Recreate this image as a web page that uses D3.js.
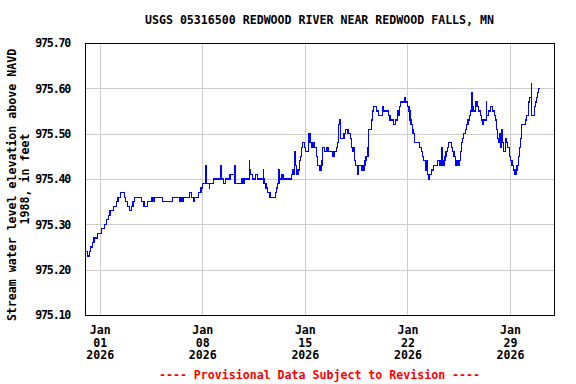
<!DOCTYPE html>
<html>
<head>
<meta charset="utf-8">
<script src="https://cdn.jsdelivr.net/npm/d3@7"></script>
<style>
  body { margin: 0; background: #fff; }
  text { font-family: "DejaVu Sans Mono", monospace; font-weight: bold; font-size: 11.6px; }
</style>
</head>
<body>
<svg id="chart" width="576" height="384"></svg>
<script>
// gage readings, days after 2025-12-31 00:00 (UTC) -> water level (ft)
var dayOffsets = [
  0.00, 0.16, 0.30, 0.36, 0.50, 0.61, 0.84, 1.11, 1.34, 1.45, 1.59, 1.71, 1.93, 2.14, 2.25, 2.43,
  2.71, 2.78, 2.89, 3.02, 3.16, 3.27, 3.36, 3.84, 4.02, 4.25, 4.55, 4.60, 4.65, 4.70, 4.75, 5.27,
  5.96, 6.43, 6.48, 6.53, 6.60, 6.65, 6.71, 7.12, 7.28, 7.39, 7.45, 7.73, 7.91, 8.03, 8.21, 8.25,
  8.30, 8.48, 8.50, 8.75, 9.28, 9.31, 9.43, 9.57, 9.89, 10.19, 10.23, 10.66, 10.70, 10.75, 10.80, 10.87,
  11.21, 11.25, 11.30, 11.44, 11.66, 11.78, 12.16, 12.20, 12.22, 12.26, 12.35, 12.46, 12.62, 12.98, 13.05, 13.12,
  13.23, 13.27, 13.39, 13.51, 14.07, 14.14, 14.21, 14.30, 14.33, 14.41, 14.53, 14.65, 14.71, 14.78, 14.82, 14.99,
  15.05, 15.26, 15.35, 15.44, 15.55, 15.67, 15.78, 15.89, 16.01, 16.05, 16.09, 16.13, 16.17, 16.23, 16.35, 16.46,
  16.58, 16.92, 17.00, 17.14, 17.21, 17.30, 17.37, 17.44, 17.67, 17.76, 17.94, 18.12, 18.21, 18.25, 18.30, 18.40,
  18.46, 18.58, 18.62, 18.67, 18.85, 18.92, 19.00, 19.05, 19.10, 19.17, 19.26, 19.29, 19.33, 19.56, 19.62, 19.71,
  19.90, 20.01, 20.28, 20.35, 20.69, 20.81, 21.03, 21.21, 21.30, 21.37, 21.44, 21.53, 21.78, 21.82, 21.85, 21.87,
  22.01, 22.10, 22.17, 22.24, 22.33, 22.36, 22.38, 22.39, 22.46, 22.85, 22.97, 23.04, 23.12, 23.24, 23.27, 23.31,
  23.37, 23.47, 23.53, 23.65, 23.76, 24.03, 24.22, 24.27, 24.33, 24.36, 24.42, 24.47, 24.52, 24.56, 24.63, 24.72,
  24.78, 24.98, 25.09, 25.17, 25.26, 25.31, 25.36, 25.40, 25.45, 25.49, 25.53, 25.60, 25.67, 25.76, 25.85, 25.94,
  26.04, 26.13, 26.21, 26.31, 26.40, 26.43, 26.47, 26.53, 26.62, 26.66, 26.70, 26.73, 26.76, 26.86, 26.97, 27.03,
  27.13, 27.20, 27.37, 27.42, 27.54, 27.65, 27.83, 27.92, 27.99, 28.06, 28.13, 28.17, 28.22, 28.26, 28.33, 28.37,
  28.40, 28.45, 28.56, 28.67, 28.74, 28.83, 28.94, 29.04, 29.13, 29.24, 29.29, 29.34, 29.38, 29.43, 29.47, 29.58,
  29.65, 29.72, 29.81, 30.04, 30.15, 30.24, 30.31, 30.44, 30.47, 30.65, 30.72, 30.79, 30.86, 30.92, 31.04
];
var levels = [
  975.24, 975.23, 975.24, 975.25, 975.26, 975.27, 975.28, 975.29, 975.30, 975.31, 975.32, 975.33, 975.34, 975.35, 975.36, 975.37,
  975.36, 975.35, 975.34, 975.33, 975.34, 975.35, 975.36, 975.35, 975.34, 975.35, 975.36, 975.35, 975.36, 975.35, 975.36, 975.35,
  975.36, 975.35, 975.36, 975.35, 975.36, 975.35, 975.36, 975.37, 975.36, 975.35, 975.36, 975.37, 975.38, 975.39, 975.43, 975.41,
  975.39, 975.38, 975.39, 975.40, 975.43, 975.40, 975.39, 975.40, 975.41, 975.43, 975.39, 975.40, 975.39, 975.40, 975.39, 975.40,
  975.44, 975.42, 975.41, 975.40, 975.41, 975.40, 975.42, 975.39, 975.40, 975.39, 975.38, 975.37, 975.36, 975.37, 975.38, 975.39,
  975.42, 975.40, 975.41, 975.40, 975.41, 975.42, 975.41, 975.46, 975.43, 975.41, 975.42, 975.44, 975.45, 975.47, 975.48, 975.47,
  975.46, 975.50, 975.48, 975.47, 975.48, 975.47, 975.45, 975.43, 975.42, 975.43, 975.42, 975.43, 975.44, 975.47, 975.46, 975.47,
  975.46, 975.45, 975.46, 975.47, 975.48, 975.52, 975.53, 975.49, 975.50, 975.51, 975.50, 975.49, 975.47, 975.46, 975.47, 975.44,
  975.43, 975.42, 975.41, 975.43, 975.42, 975.43, 975.42, 975.43, 975.44, 975.45, 975.47, 975.45, 975.51, 975.53, 975.55, 975.56,
  975.55, 975.54, 975.56, 975.55, 975.54, 975.53, 975.52, 975.53, 975.55, 975.54, 975.56, 975.57, 975.58, 975.57, 975.58, 975.57,
  975.56, 975.55, 975.53, 975.52, 975.51, 975.50, 975.51, 975.50, 975.48, 975.47, 975.46, 975.45, 975.44, 975.43, 975.42, 975.44,
  975.41, 975.40, 975.41, 975.42, 975.43, 975.44, 975.43, 975.44, 975.47, 975.43, 975.44, 975.43, 975.44, 975.45, 975.46, 975.47,
  975.48, 975.47, 975.46, 975.45, 975.44, 975.43, 975.44, 975.43, 975.44, 975.43, 975.44, 975.46, 975.48, 975.49, 975.50, 975.51,
  975.52, 975.53, 975.54, 975.55, 975.59, 975.55, 975.56, 975.55, 975.56, 975.57, 975.56, 975.57, 975.56, 975.55, 975.54, 975.53,
  975.52, 975.53, 975.57, 975.54, 975.55, 975.56, 975.55, 975.54, 975.53, 975.51, 975.50, 975.49, 975.48, 975.50, 975.48, 975.47,
  975.51, 975.48, 975.46, 975.49, 975.48, 975.47, 975.45, 975.44, 975.43, 975.42, 975.41, 975.42, 975.41, 975.42, 975.43, 975.45,
  975.47, 975.49, 975.52, 975.53, 975.54, 975.57, 975.58, 975.61, 975.54, 975.56, 975.57, 975.58, 975.59, 975.60, 975.60
];

var yTicks = [975.10, 975.20, 975.30, 975.40, 975.50, 975.60, 975.70];
var xTickDays = ["2026-01-01", "2026-01-08", "2026-01-15", "2026-01-22", "2026-01-29"];

var titleText = "USGS 05316500 REDWOOD RIVER NEAR REDWOOD FALLS, MN";
var yTitle1 = "Stream water level elevation above NAVD";
var yTitle2 = "1988, in feet";
var footText = "---- Provisional Data Subject to Revision ----";

var margin = {top: 43, right: 22, bottom: 69, left: 85},
    width = 576 - margin.left - margin.right,
    height = 384 - margin.top - margin.bottom;

var start = new Date(Date.UTC(2025, 11, 31));
var parseDay = d3.utcParse("%Y-%m-%d");

var data = dayOffsets.map(function(d, i) {
  return {date: d3.utcMinute.offset(start, Math.round(d * 1440)), level: levels[i]};
});

var x = d3.scaleUtc()
    .domain([start, new Date(Date.UTC(2026, 1, 1))])
    .range([0, width]);
var y = d3.scaleLinear()
    .domain([975.10, 975.70])
    .range([height, 0]);

var svg = d3.select("#chart");
var g = svg.append("g")
    .attr("transform", "translate(" + margin.left + "," + margin.top + ")");

// grid
g.append("g")
    .attr("class", "grid")
    .call(d3.axisLeft(y).tickValues(yTicks.slice(1, -1)).tickSize(-width).tickFormat(""))
    .call(function(s) { s.select(".domain").remove(); });
g.append("g")
    .attr("class", "grid")
    .attr("transform", "translate(0," + height + ")")
    .call(d3.axisBottom(x).tickValues(xTickDays.map(parseDay)).tickSize(-height).tickFormat(""))
    .call(function(s) { s.select(".domain").remove(); });
g.selectAll(".grid line")
    .attr("stroke", "#cccccc")
    .attr("shape-rendering", "crispEdges");

// y labels
var yAxis = g.append("g")
    .call(d3.axisLeft(y).tickValues(yTicks).tickSize(0).tickPadding(15).tickFormat(d3.format(".2f")));
yAxis.select(".domain").remove();
yAxis.selectAll("text")
    .attr("fill", "#000")
    .style("font-size", null).style("font-family", null)
    .style("letter-spacing", "-1.2px");

// x labels, three lines each
var xAxis = g.append("g")
    .attr("transform", "translate(0," + height + ")")
    .call(d3.axisBottom(x).tickValues(xTickDays.map(parseDay)).tickSize(0).tickFormat(""));
xAxis.select(".domain").remove();
xAxis.selectAll(".tick").each(function(d) {
  var t = d3.select(this).append("text").attr("fill", "#000").attr("text-anchor", "middle");
  [d3.utcFormat("%b")(d), d3.utcFormat("%d")(d), d3.utcFormat("%Y")(d)].forEach(function(s, i) {
    t.append("tspan").attr("x", 0).attr("y", 19 + i * 12.7).text(s);
  });
});

// frame
g.append("rect")
    .attr("x", 0.5).attr("y", 0.5)
    .attr("width", width).attr("height", height)
    .attr("fill", "none").attr("stroke", "#000")
    .attr("shape-rendering", "crispEdges");

// the series
var line = d3.line()
    .curve(d3.curveStepAfter)
    .x(function(d) { return x(d.date); })
    .y(function(d) { return y(d.level); });

g.append("path")
    .datum(data)
    .attr("fill", "none")
    .attr("stroke", "#0000ff")
    .attr("stroke-width", 1.2)
    .attr("shape-rendering", "crispEdges")
    .attr("d", line);

// titles
svg.append("text")
    .attr("x", margin.left + width / 2).attr("y", 24)
    .attr("text-anchor", "middle")
    .text(titleText);

svg.append("text")
    .attr("transform", "translate(16,185) rotate(-90)")
    .attr("text-anchor", "middle")
    .text(yTitle1);
svg.append("text")
    .attr("transform", "translate(29,179) rotate(-90)")
    .attr("text-anchor", "middle")
    .text(yTitle2);

svg.append("text")
    .attr("x", margin.left + width / 2).attr("y", 379)
    .attr("text-anchor", "middle")
    .attr("fill", "#ff0000")
    .text(footText);
</script>
</body>
</html>
